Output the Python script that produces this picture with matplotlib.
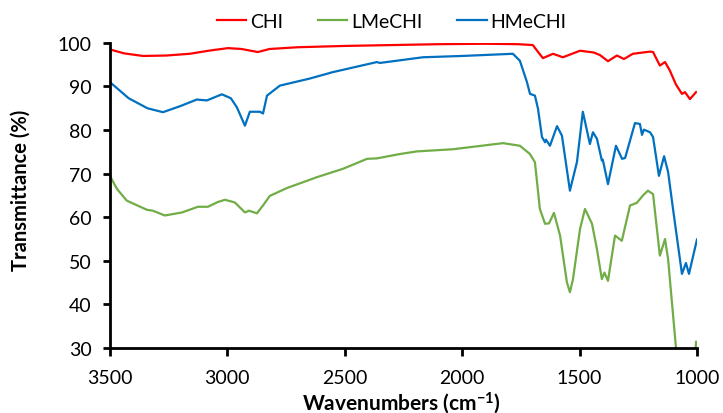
import matplotlib.pyplot as plt

plt.rcParams['font.family'] = ['Lato', 'DejaVu Sans']
plt.rcParams['mathtext.default'] = 'regular'

# wavenumber (cm-1) / transmittance (%)
chi_wn = [3500, 3440, 3359, 3260, 3160, 3080, 2997, 2940, 2870, 2820, 2700, 2500, 2300,
          2100, 1900, 1760, 1699, 1675, 1656, 1613, 1571, 1498, 1440, 1413, 1379, 1341,
          1311, 1273, 1200, 1187, 1158, 1136, 1115, 1090, 1064, 1051, 1030, 1004]
chi_t = [98.5, 97.6, 97.0, 97.1, 97.5, 98.2, 98.8, 98.6, 97.9, 98.6, 99.0, 99.3, 99.5,
         99.7, 99.8, 99.7, 99.5, 97.8, 96.5, 97.5, 96.7, 98.2, 97.8, 97.2, 95.8, 97.1,
         96.3, 97.5, 98.0, 97.9, 94.8, 95.6, 93.6, 90.5, 88.3, 88.7, 87.1, 88.7]

lme_wn = [3500, 3470, 3428, 3342, 3317, 3266, 3193, 3125, 3083, 3040, 3010, 2968, 2925,
          2908, 2874, 2848, 2819, 2746, 2618, 2508, 2405, 2363, 2265, 2193, 2039, 1826,
          1754, 1711, 1690, 1669, 1647, 1630, 1609, 1583, 1554, 1541, 1528, 1498, 1477,
          1447, 1426, 1405, 1394, 1379, 1349, 1320, 1285, 1256, 1230, 1209, 1187, 1158,
          1136, 1123, 1089, 1060, 1030, 1010, 1004]
lme_t = [69.5, 66.5, 63.8, 61.7, 61.5, 60.4, 61.1, 62.4, 62.4, 63.5, 64.0, 63.4, 61.1,
         61.5, 60.9, 62.7, 64.9, 66.7, 69.2, 71.1, 73.4, 73.5, 74.5, 75.1, 75.6, 77.0,
         76.4, 74.5, 72.6, 61.9, 58.5, 58.6, 61.0, 55.8, 45.1, 42.8, 45.8, 57.3, 61.9,
         58.5, 52.7, 45.8, 47.3, 45.4, 55.8, 54.6, 62.7, 63.3, 65.0, 66.1, 65.3, 51.2,
         55.0, 50.4, 29.8, 22.0, 20.0, 26.0, 31.4]

hme_wn = [3500, 3420, 3340, 3274, 3200, 3130, 3087, 3023, 2985, 2959, 2925, 2904, 2861,
          2848, 2831, 2776, 2650, 2550, 2363, 2350, 2167, 2000, 1784, 1754, 1724, 1711,
          1690, 1677, 1660, 1647, 1643, 1626, 1596, 1575, 1541, 1511, 1486, 1456, 1443,
          1426, 1405, 1401, 1379, 1345, 1319, 1306, 1264, 1243, 1234, 1226, 1200, 1187,
          1162, 1140, 1123, 1102, 1064, 1047, 1034, 1000]
hme_t = [91.0, 87.3, 85.0, 84.1, 85.5, 87.0, 86.8, 88.2, 87.3, 85.2, 81.0, 84.2, 84.2,
         83.8, 87.9, 90.2, 91.8, 93.3, 95.6, 95.4, 96.7, 97.0, 97.5, 95.9, 91.0, 88.3,
         87.9, 84.9, 78.4, 77.2, 77.8, 76.4, 80.9, 78.7, 66.1, 72.7, 84.2, 76.8, 79.5,
         78.0, 73.0, 73.2, 67.6, 76.4, 73.4, 73.6, 81.6, 81.4, 78.9, 80.1, 79.5, 78.4,
         69.5, 74.0, 70.4, 61.9, 47.0, 49.5, 47.0, 54.9]

fig = plt.figure(figsize=(7.23, 4.14), dpi=100)
ax = fig.add_axes([0.152, 0.157, 0.812, 0.737])

ax.plot(chi_wn, chi_t, color='#FF0000', lw=1.6, label='CHI')
ax.plot(lme_wn, lme_t, color='#70AD47', lw=1.6, label='LMeCHI')
ax.plot(hme_wn, hme_t, color='#0070C0', lw=1.6, label='HMeCHI')

ax.set_xlim(3500, 1000)
ax.set_ylim(30, 100)
ax.set_xticks([3500, 3000, 2500, 2000, 1500, 1000])
ax.set_yticks(range(30, 101, 10))
for s in ['top', 'right']:
    ax.spines[s].set_visible(False)
for s in ['left', 'bottom']:
    ax.spines[s].set_linewidth(2)
ax.tick_params(width=2, length=5, labelsize=14)
ax.tick_params(axis='x', pad=9, length=6)
ax.tick_params(axis='y', pad=8)

ax.set_xlabel('Wavenumbers (cm$^{-1}$)', fontsize=15, fontweight='bold', va='bottom')
ax.xaxis.set_label_coords(0.496, -0.218)
ax.set_ylabel('Transmittance (%)', fontsize=14.5, fontweight='bold')
ax.yaxis.set_label_coords(-0.135, 0.52)

ax.legend(loc='center', bbox_to_anchor=(0.48, 1.07), ncol=3, frameon=False,
          fontsize=14, handlelength=1.5, handletextpad=0.2, columnspacing=1.8)

fig.savefig('out.png')
